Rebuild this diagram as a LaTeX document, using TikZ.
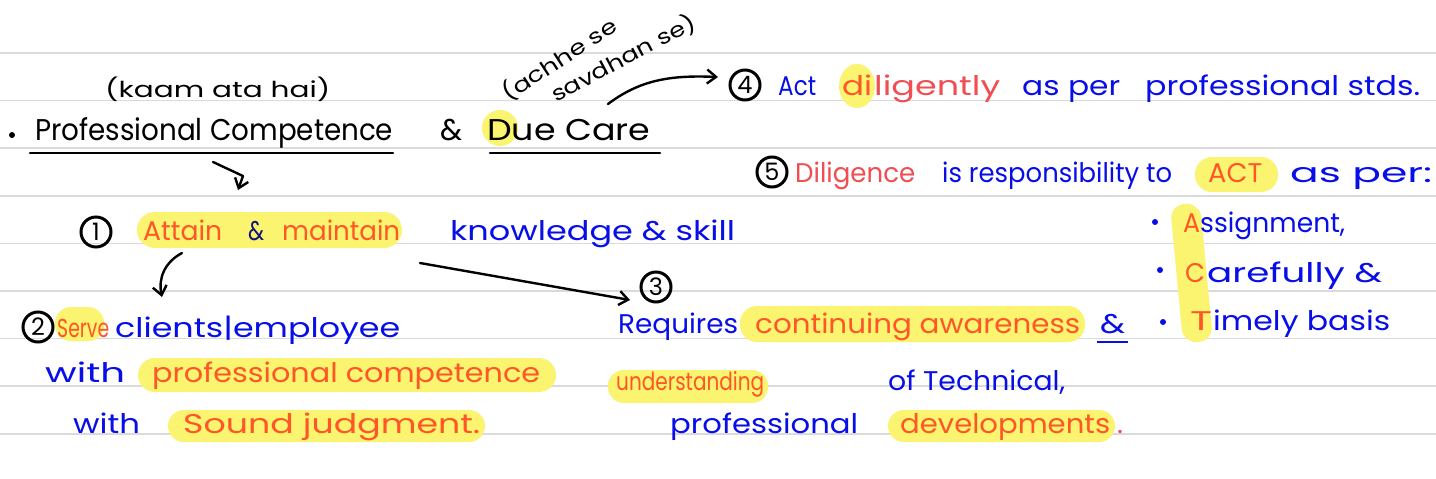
\documentclass[tikz,border=0pt]{standalone}
\usepackage{fontspec}
\setmainfont{Poppins}
\usepackage{graphicx}
\usetikzlibrary{arrows.meta}

\definecolor{inkblue}{RGB}{8,14,232}
\definecolor{inkorange}{RGB}{255,86,40}
\definecolor{inkred}{RGB}{240,78,82}
\definecolor{inknavy}{RGB}{22,22,120}
\definecolor{hilite}{RGB}{250,244,112}
\definecolor{rule}{RGB}{218,218,218}

% stretch a text horizontally to a given width (in pt), keeping its height
\newcommand{\hw}[2]{\resizebox{#1pt}{\height}{#2}}
\newcommand{\fsz}[1]{\fontsize{#1}{#1}\selectfont}

\tikzset{
  txt/.style={inner sep=0pt, anchor=base west, font=\fsz{27}},
  head/.style={txt, font=\fsz{30}, text=black},
  blu/.style={txt, text=inkblue},
  org/.style={txt, text=inkorange},
  redt/.style={txt, text=inkred},
  numc/.style={circle, draw=black, line width=3pt, minimum size=30pt,
               inner sep=0pt, font=\fsz{24}},
  hl/.style={fill=hilite, draw=none},
  ruleline/.style={draw=rule, line width=1.5pt},
  ink/.style={draw=black, line width=2.4pt, line cap=round, line join=round},
  inkarrow/.style={ink, -{Straight Barb[length=9pt,width=14pt,line width=2.4pt]}},
  dotb/.style={circle, fill=#1, inner sep=0pt, minimum size=6pt},
}

\begin{document}
\begin{tikzpicture}[x=1pt, y=-1pt]
\useasboundingbox (0,0) rectangle (1436,479);
\fill[white] (0,0) rectangle (1436,479);

% ruled paper
\foreach \k in {0,...,8} {
  \draw[ruleline] (0,{53+47.6*\k}) -- (1436,{53+47.6*\k});
}

% ---------- highlights ----------
\fill[hl] (500,128) circle (18);
\fill[hl] (857,86) ellipse (18 and 22);
\fill[hl, rounded corners=17] (1195,157) rectangle (1278,192);
\fill[hl, rounded corners=18] (137,212) rectangle (402,248);
\fill[hl, rounded corners=14] (1170,205) -- (1200,203) -- (1213,341) -- (1183,343) -- cycle;
\fill[hl, rounded corners=16] (55,307) rectangle (104,341);
\fill[hl, rounded corners=17] (740,306) rectangle (1085,342);
\fill[hl, rounded corners=17] (138,358) rectangle (556,392);
\fill[hl, rounded corners=16] (608,370) rectangle (768,403);
\fill[hl, rounded corners=16] (168,410) rectangle (485,442);
\fill[hl, rounded corners=16] (888,410) rectangle (1115,442);

% ---------- heading ----------
\node[txt, font=\fsz{22}] (kaam) at (105,97) {\hw{225}{(kaam ata hai)}};
\node[txt, font=\fsz{21}, rotate=33] (achhe) at (508,102) {\hw{132}{(achhe se}};
\node[txt, font=\fsz{21}, rotate=28] (savdhan) at (556,103) {\hw{160}{savdhan se)}};

\node[dotb=black] (b0) at (12,135) {};
\node[head] (pc) at (35,140) {\hw{358}{Professional Competence}};
\node[head] (amp0) at (440,140) {\hw{22}{\&}};
\node[head] (due) at (487,140) {\hw{163}{Due Care}};
\draw[ink, line width=2.6pt] (30,153) -- (393,153);
\draw[ink, line width=2.6pt] (490,153) -- (660,153);

% ---------- point 4 ----------
\node[numc] (c4) at (745,85) {4};
\node[blu] (act) at (778,95) {\hw{38}{Act}};
\node[org] (di) at (842,95) {\hw{30}{di}};
\node[redt] (ligently) at (874,95) {\hw{126}{ligently}};
\node[blu] (asper4) at (1022,95) {\hw{98}{as per}};
\node[blu] (stds) at (1145,95) {\hw{275}{professional stds.}};

% ---------- point 5 ----------
\node[numc] (c5) at (772,172) {5};
\node[redt] (dilig) at (795,182) {\hw{120}{Diligence}};
\node[blu] (resp) at (942,182) {\hw{230}{is responsibility to}};
\node[org] (actc) at (1208,182) {\hw{54}{ACT}};
\node[blu] (asper5) at (1290,182) {\hw{142}{as per:}};

% ---------- ACT list ----------
\node[dotb=inkblue] (d1) at (1155,222) {};
\node[dotb=inkblue] (d2) at (1160,270) {};
\node[dotb=inkblue] (d3) at (1163,322) {};
\node[org] (la) at (1183,232) {\hw{17}{A}};
\node[blu] (ra) at (1200,232) {\hw{145}{ssignment,}};
\node[org] (lc) at (1185,282) {\hw{20}{C}};
\node[blu] (rc) at (1207,282) {\hw{175}{arefully \&}};
\node[org] (lt) at (1190,330) {\hw{22}{T}};
\node[blu] (rt) at (1213,330) {\hw{177}{imely basis}};

% ---------- point 1 ----------
\node[numc] (c1) at (96,232) {1};
\node[org] (attain) at (143,240) {\hw{79}{Attain}};
\node[txt, text=inknavy] (amp1) at (248,240) {\hw{16}{\&}};
\node[org] (maintain) at (282,240) {\hw{118}{maintain}};
\node[blu] (know) at (450,240) {\hw{285}{knowledge \& skill}};

% ---------- point 2 ----------
\node[numc] (c2) at (38,327) {2};
\node[org, font=\fsz{26}] (serve) at (57,337) {\hw{52}{Serve}};
\node[blu] (clients) at (115,337) {\hw{285}{clients|employee}};
\node[blu] (with1) at (45,382) {\hw{80}{with}};
\node[org] (profc) at (152,382) {\hw{388}{professional competence}};
\node[blu] (with2) at (73,433) {\hw{67}{with}};
\node[org] (sound) at (183,433) {\hw{297}{Sound judgment.}};

% ---------- point 3 ----------
\node[numc] (c3) at (656,287) {3};
\node[blu] (req) at (618,333) {\hw{120}{Requires}};
\node[org] (cont) at (755,333) {\hw{325}{continuing awareness}};
\node[blu] (amp3) at (1100,333) {\hw{25}{\&}};
\draw[draw=inkblue, line width=2.5pt] (1097,342) -- (1128,342);
\node[org, font=\fsz{25}] (under) at (616,390) {\hw{148}{understanding}};
\node[blu] (tech) at (888,390) {\hw{177}{of Technical,}};
\node[blu] (prof3) at (670,433) {\hw{188}{professional}};
\node[org] (devel) at (900,433) {\hw{210}{developments}};
\node[redt] (dot3) at (1117,433) {\hw{6}{.}};

% ---------- connectors ----------
\coordinate (care top) at (608,104);
\coordinate (to four) at (718,77);
\draw[inkarrow] (care top) .. controls (640,80) and (670,75) .. (to four);

\coordinate (pc below) at (213,162);
\coordinate (pc bend) at (243,176);
\coordinate (to one) at (238,190);
\draw[inkarrow] (pc below) -- (pc bend) -- (to one);

\coordinate (one left) at (182,253);
\coordinate (to two) at (162,297);
\draw[inkarrow] (one left) .. controls (165,262) and (158,278) .. (to two);

\coordinate (one right) at (420,263);
\coordinate (to three) at (630,300);
\draw[inkarrow] (one right) -- (to three);
\end{tikzpicture}
\end{document}
